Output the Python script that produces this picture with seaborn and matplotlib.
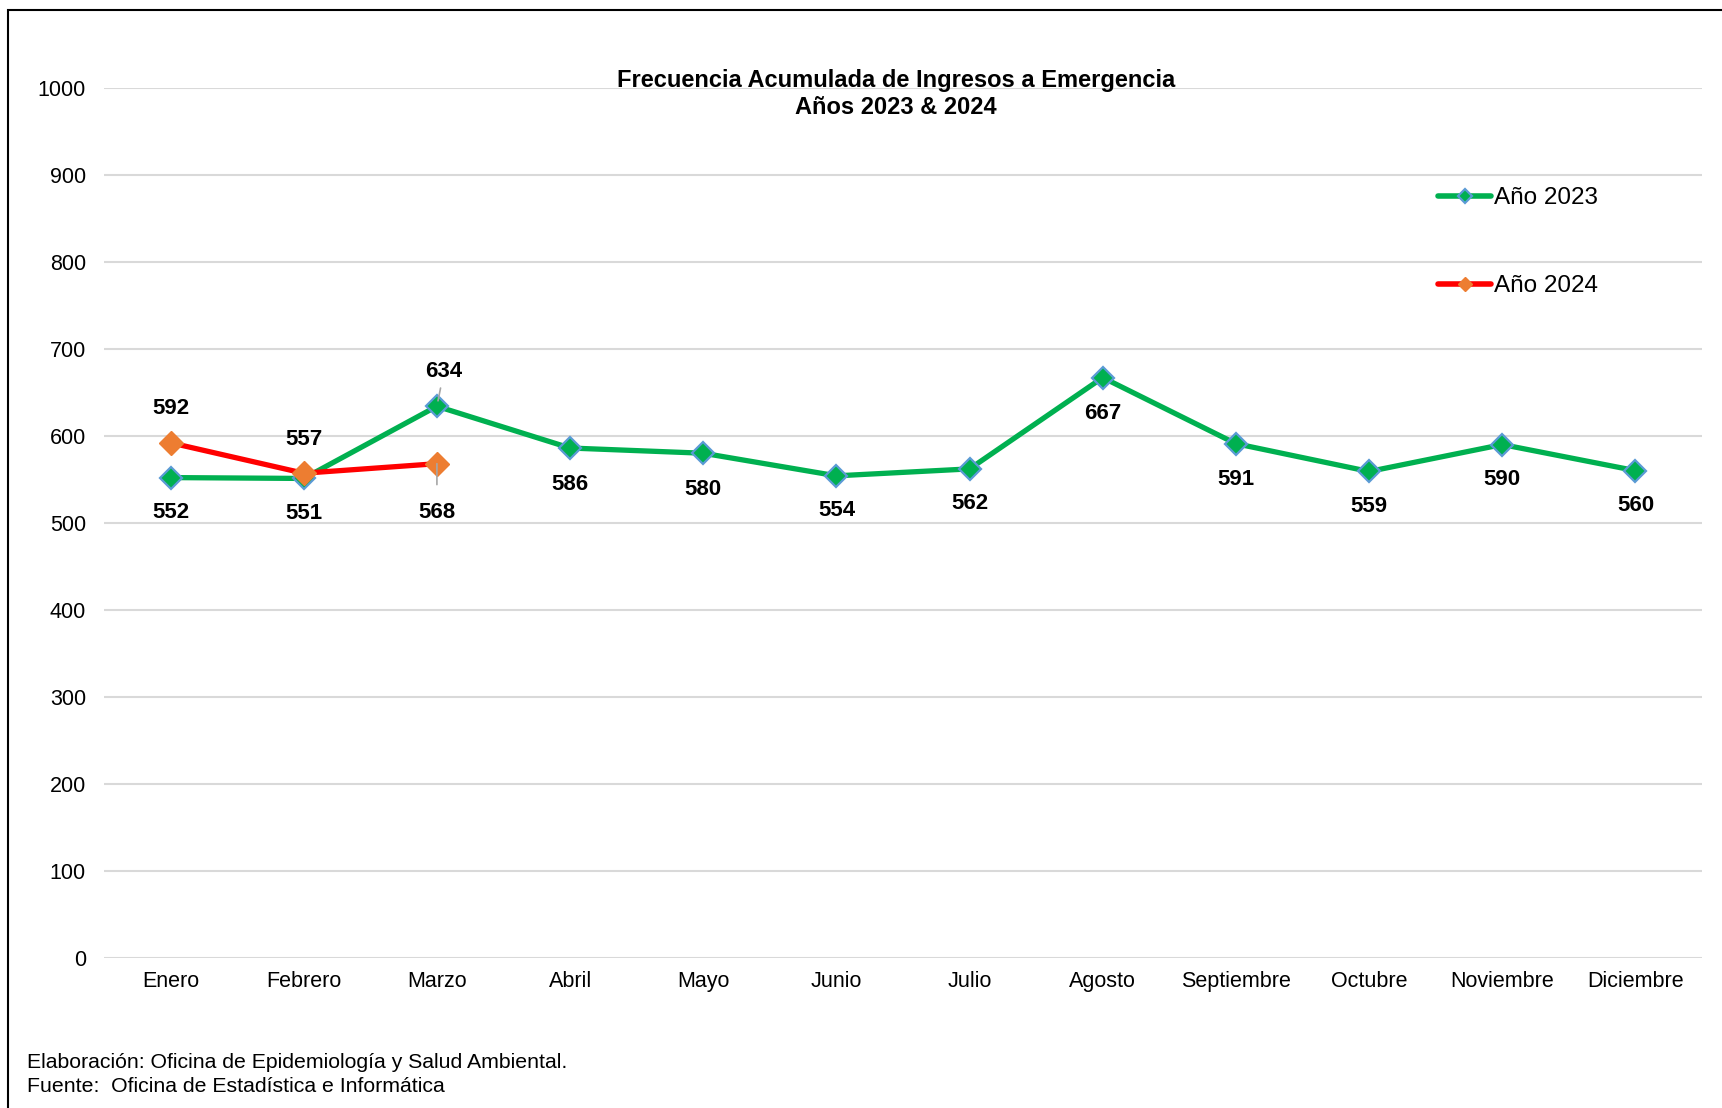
import numpy as np
import pandas as pd
import matplotlib
matplotlib.use("Agg")
import matplotlib.pyplot as plt
import seaborn as sns
from matplotlib.patches import Rectangle

# datos
meses = ["Enero", "Febrero", "Marzo", "Abril", "Mayo", "Junio", "Julio",
         "Agosto", "Septiembre", "Octubre", "Noviembre", "Diciembre"]
ingresos_2023 = [552, 551, 634, 586, 580, 554, 562, 667, 591, 559, 590, 560]
ingresos_2024 = [592, 557, 568]

# desplazamiento (pt) de cada etiqueta respecto a su punto
off_2023 = [(0, -25), (0, -25), (5, 25), (0, -26), (0, -26), (0, -25),
            (0, -25), (0, -26), (0, -26), (0, -25), (0, -25), (0, -25)]
off_2024 = [(0, 25), (0, 24), (0, -35)]

sns.set_theme(style="white")
plt.rcParams['font.family'] = ['Liberation Sans', 'DejaVu Sans']
plt.rcParams['text.color'] = 'black'

df23 = pd.DataFrame({"pos": np.arange(len(ingresos_2023)), "valor": ingresos_2023})
df24 = pd.DataFrame({"pos": np.arange(len(ingresos_2024)), "valor": ingresos_2024})

fig = plt.figure(figsize=(17.22, 11.08), dpi=100)
ax = fig.add_axes([104 / 1722, 1 - 957.6 / 1108, 1598 / 1722, (957.6 - 88) / 1108])

sns.lineplot(data=df23, x="pos", y="valor", ax=ax, color="#00B050", linewidth=3.8,
             marker="D", markersize=11, markerfacecolor="#00B050",
             markeredgecolor="#5B9BD5", markeredgewidth=1.6, label="Año 2023", zorder=3)
sns.lineplot(data=df24, x="pos", y="valor", ax=ax, color="#FF0000", linewidth=3.8,
             marker="D", markersize=12, markerfacecolor="#ED7D31",
             markeredgecolor="#ED7D31", markeredgewidth=1, label="Año 2024", zorder=4)

ax.set_xlim(-0.5, len(meses) - 0.5)
ax.set_ylim(0, 1000)
ax.set_yticks(range(0, 1001, 100))
ax.set_xticks(range(len(meses)))
ax.set_xticklabels(meses)
ax.set_xlabel("")
ax.set_ylabel("")
ax.tick_params(axis="both", length=0, labelsize=15.5, colors="black")
ax.tick_params(axis="y", pad=13)
ax.tick_params(axis="x", pad=10)
ax.yaxis.grid(True, color="#D9D9D9", linewidth=1.5)
ax.set_axisbelow(True)
for s in ax.spines.values():
    s.set_visible(False)

# etiquetas de datos
for i, v in enumerate(ingresos_2023):
    dx, dy = off_2023[i]
    props = None
    if i == 2:
        props = dict(arrowstyle="-", color="#A6A6A6", lw=1.2, shrinkA=2, shrinkB=4)
    ax.annotate(str(v), (i, v), xytext=(dx, dy), textcoords="offset points",
                ha="center", va="center", fontsize=16, fontweight="bold",
                arrowprops=props, zorder=5)
for i, v in enumerate(ingresos_2024):
    dx, dy = off_2024[i]
    props = None
    if i == 2:
        props = dict(arrowstyle="-", color="#A6A6A6", lw=1.2, shrinkA=10, shrinkB=0)
    ax.annotate(str(v), (i, v), xytext=(dx, dy), textcoords="offset points",
                ha="center", va="center", fontsize=16, fontweight="bold",
                arrowprops=props, zorder=5)

fig.text(896 / 1722, 1 - 94 / 1108, "Frecuencia Acumulada de Ingresos a Emergencia\nAños 2023 & 2024",
         ha="center", va="center", fontsize=17, fontweight="bold", linespacing=1.2)

leg = ax.legend(loc="upper left", bbox_to_anchor=(1421 / 1722, 1 - 170 / 1108),
                bbox_transform=fig.transFigure, frameon=False, fontsize=17.5,
                handlelength=2.2, handletextpad=0.1, labelspacing=2.72,
                borderpad=0.2)
for h in leg.legend_handles:
    h.set_markersize(7)
    h.set_linewidth(4)

fig.text(27 / 1722, 1 - 1062 / 1108, "Elaboración: Oficina de Epidemiología y Salud Ambiental.",
         fontsize=15.3, va="center")
fig.text(27 / 1722, 1 - 1086 / 1108, "Fuente:  Oficina de Estadística e Informática",
         fontsize=15.3, va="center")

# marco exterior
fig.patches.append(Rectangle((8 / 1722, -0.1), 1.2, 1.1 - 10 / 1108,
                             transform=fig.transFigure, fill=False,
                             edgecolor="black", linewidth=1.5))

fig.savefig("out.png", dpi=100)
